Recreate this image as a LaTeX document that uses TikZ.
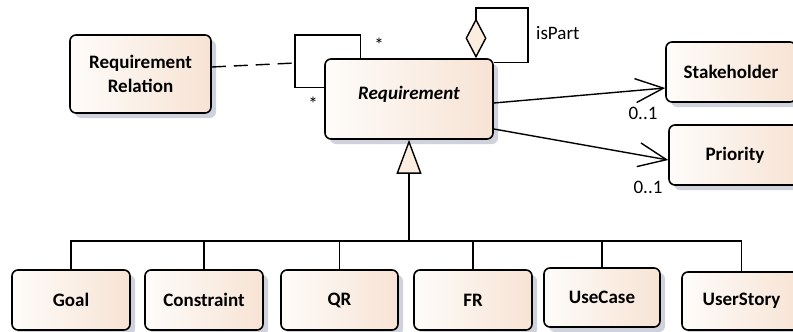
\documentclass[tikz,border=0pt]{standalone}
\usepackage{fontspec}
\setmainfont{Carlito}
\usetikzlibrary{positioning, calc, arrows.meta, shadows}

\definecolor{clsleft}{HTML}{FEFCFA}
\definecolor{clsright}{HTML}{F7E3D4}
\definecolor{clsshadow}{HTML}{CFD2DC}
\definecolor{tipfill}{HTML}{FBEEE0}

\tikzset{
  cls/.style={draw, line width=1.6pt, rounded corners=6pt,
    left color=clsleft, right color=clsright,
    drop shadow={shadow xshift=5pt, shadow yshift=-5pt, fill=clsshadow, opacity=1},
    font=\fontsize{19}{24}\selectfont\bfseries, align=center, inner sep=0pt,
    minimum height=60pt},
  lbl/.style={font=\fontsize{19}{22}\selectfont, inner sep=0pt},
  conn/.style={line width=1.4pt},
  assoc/.style={conn, -{Straight Barb[length=28pt, width=24pt]}},
  gen/.style={conn, -{Triangle[fill=tipfill, length=34pt, width=25pt]}},
  aggr/.style={conn, -{Diamond[fill=tipfill, length=40pt, width=21pt]}}
}

\begin{document}
\begin{tikzpicture}[x=1pt, y=-1pt]
  \useasboundingbox (0,0) rectangle (793,332);

  % classes
  \node[cls, minimum width=141pt, minimum height=78pt] (relation) at (140.5,74) {Requirement\\Relation};
  \node[cls, minimum width=168pt, minimum height=80pt, text height=14pt, text depth=14pt,
        font=\fontsize{19}{24}\selectfont\bfseries\itshape] (req) at (409,99) {Requirement};
  \node[cls, minimum width=130pt] (stakeholder) at (731,72) {Stakeholder};
  \node[cls, minimum width=132pt] (priority) at (735,155) {Priority};

  \node[cls, minimum width=118pt] (goal) at (71,300) {Goal};
  \node[cls, minimum width=118pt] (constraint) at (204,300) {Constraint};
  \node[cls, minimum width=117pt] (qr) at (339.5,300) {QR};
  \node[cls, minimum width=118pt] (fr) at (473,300) {FR};
  \node[cls, minimum width=116pt, minimum height=59pt] (usecase) at (602,297.5) {UseCase};
  \node[cls, minimum width=119pt, minimum height=58pt] (userstory) at (741.5,301) {UserStory};

  % self association with association class
  \coordinate (selfTL) at (295,35);
  \coordinate (selfMid) at (295,63);
  \draw[conn] ([xshift=36pt]req.north west) |- (selfTL) |- ([yshift=-29pt]req.north west);
  \draw[conn, dash pattern=on 14pt off 8pt] ([yshift=7pt]relation.east) -- (selfMid);
  \node[lbl] (multA) at (379,45) {*};
  \node[lbl] (multB) at (313,104) {*};

  % isPart aggregation
  \coordinate (loopR) at (528,8);
  \draw[aggr] ([yshift=-4pt]req.north east) -| (loopR) -| ([xshift=67pt]req.north);
  \node[lbl, anchor=west] (ispart) at (536,33) {isPart};

  % associations
  \draw[assoc] ([yshift=-4pt]req.east) -- ([yshift=-16pt]stakeholder.west);
  \draw[assoc] ([yshift=-30pt]req.east) -- ([yshift=-5pt]priority.west);
  \node[lbl] (multC) at (643,113) {0..1};
  \node[lbl] (multD) at (648,187) {0..1};

  % generalization
  \coordinate (bus) at (409,241);
  \foreach \c in {goal,constraint,qr,fr,usecase,userstory}
    \draw[conn] (\c.north) |- (bus);
  \draw[gen] (bus) -- (req.south);
\end{tikzpicture}
\end{document}
